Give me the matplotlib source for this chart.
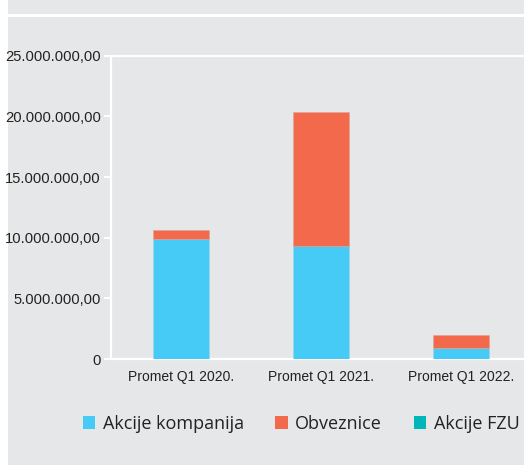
import matplotlib
matplotlib.use("Agg")
import matplotlib.pyplot as plt
from matplotlib.patches import Patch, Rectangle

BG_GREY = "#e6e7e9"
BLUE = "#46caf6"
ORANGE = "#f2694b"
TEAL = "#00b6b9"

categories = ["Promet Q1 2020.", "Promet Q1 2021.", "Promet Q1 2022."]
akcije_kompanija = [9_890_000, 9_320_000, 910_000]
obveznice = [720_000, 11_040_000, 1_070_000]
akcije_fzu = [0, 0, 0]
series_names = ["Akcije kompanija", "Obveznice", "Akcije FZU"]
ytick_values = [0, 5_000_000, 10_000_000, 15_000_000, 20_000_000, 25_000_000]
ytick_labels = ["0", "5.000.000,00", "10.000.000,00", "15.000.000,00",
                "20.000.000,00", "25.000.000,00"]

W, H = 525, 465
fig = plt.figure(figsize=(W / 100, H / 100), dpi=100, facecolor="white")

# grey panels behind the chart (white gutter at the left and a thin band at the top)
for y0, y1 in [(0, 14), (17, 465)]:
    fig.patches.append(Rectangle((8 / W, 1 - y1 / H), (524 - 8) / W, (y1 - y0) / H,
                                 transform=fig.transFigure, facecolor=BG_GREY,
                                 edgecolor="none", zorder=-5))

ax = fig.add_axes([110.7 / W, 1 - 359 / H, 420 / W, (359 - 55.7) / H])
ax.set_zorder(2)
ax.set_facecolor("none")

x = list(range(len(categories)))
width = 0.4
bottom2 = [a + b for a, b in zip(akcije_kompanija, obveznice)]
ax.bar(x, akcije_kompanija, width, color=BLUE, edgecolor="#9fd6e8", linewidth=0.4, zorder=3)
ax.bar(x, obveznice, width, bottom=akcije_kompanija, color=ORANGE, edgecolor="#d9a59a",
       linewidth=0.4, zorder=3)
ax.bar(x, akcije_fzu, width, bottom=bottom2, color=TEAL, linewidth=0, zorder=3)

ax.set_xlim(-0.5, 2.5)
ax.set_ylim(0, 25_000_000)

narrow = ["Liberation Sans", "DejaVu Sans"]
ax.set_yticks(ytick_values)
ax.set_yticklabels(ytick_labels, family=narrow, fontsize=10.6, color="#222222")
ax.set_xticks(x)
ax.set_xticklabels(categories, family=narrow, fontsize=10, color="#222222")

ax.tick_params(axis="y", length=5, width=1.4, color="white", pad=2)
ax.tick_params(axis="x", length=0, pad=8)

for side in ["left", "bottom", "top"]:
    ax.spines[side].set_color("white")
    ax.spines[side].set_linewidth(1.6)
ax.spines["right"].set_visible(False)

handles = [Patch(facecolor=c, edgecolor="none") for c in [BLUE, ORANGE, TEAL]]
fig.legend(handles, series_names, loc="center", bbox_to_anchor=(301 / W, 1 - 424 / H),
           ncol=3, frameon=False, prop={"family": ["Open Sans", "DejaVu Sans"], "size": 13},
           handlelength=0.7, handleheight=0.7, handletextpad=0.4, columnspacing=1.75,
           labelcolor="#222222")

fig.savefig("out.png", dpi=100, facecolor="white")
